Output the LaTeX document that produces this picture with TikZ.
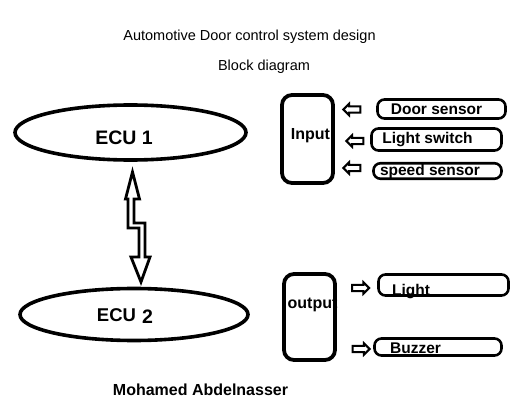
\documentclass[tikz,border=0pt]{standalone}
\usepackage{fontspec}
\setmainfont{Liberation Sans}
\usetikzlibrary{shapes.geometric,shapes.arrows}
\begin{document}
\begin{tikzpicture}[x=1pt,y=-1pt,
  ecu/.style={draw, ellipse, line width=3.6pt, inner sep=0pt},
  bigbox/.style={draw, rectangle, rounded corners=10pt, line width=3.8pt, inner sep=0pt},
  smallbox/.style={draw, rectangle, rounded corners=7pt, line width=2.6pt, inner sep=0pt},
  blk/.style={draw, single arrow, line width=2pt, inner sep=2.2pt, minimum width=10pt,
     single arrow head extend=2.6pt, single arrow head indent=0pt, minimum height=17pt},
  txt/.style={anchor=base, inner sep=0pt, font=\fontsize{#1}{#1}\selectfont},
  btxt/.style={anchor=base, inner sep=0pt, font=\fontsize{#1}{#1}\selectfont\bfseries}
]
\useasboundingbox (0,0) rectangle (512,404);
\fill[white] (0,0) rectangle (512,404);

% titles
\node[txt=14.5] (title) at (249.5,40.5) {Automotive Door control system design};
\node[txt=14.5] (sub) at (264,70.5) {Block diagram};

% ECUs
\node[ecu, minimum width=231pt, minimum height=55pt] (ecu1) at (130.5,132.5) {};
\node[btxt=19.5] (ecu1t) at (124,145) {ECU 1};
\node[ecu, minimum width=228pt, minimum height=52pt] (ecu2) at (134,314.5) {};
\node[btxt=18.5] (ecu2t) at (116.5,321.7) {ECU};
\node[btxt=19.5] (ecu2n) at (147.5,323.3) {2};

% double arrow between ECUs
\draw[line width=2.8pt, line join=miter, fill=white]
  (132.5,172) -- (139.5,199) -- (134,199) -- (134,223) -- (145,223) -- (145,257)
  -- (150,257) -- (141,282) -- (131,257) -- (139,257) -- (139,228) -- (128,228)
  -- (128,199) -- (125.5,199) -- cycle;

% input block
\node[bigbox, minimum width=51pt, minimum height=88pt] (inp) at (307.5,139) {};
\node[btxt=16] (inpt) at (310.5,139.3) {Input};

\node[smallbox, minimum width=128pt, minimum height=19pt] (door) at (441.5,109) {};
\node[btxt=15.5] (doort) at (436.5,114.3) {Door sensor};
\node[smallbox, minimum width=130pt, minimum height=22pt] (lsw) at (436.5,139.5) {};
\node[btxt=15.5] (lswt) at (427.5,143.8) {Light switch};
\node[smallbox, minimum width=128pt, minimum height=15.5pt] (spd) at (437.5,171) {};
\node[btxt=15.5] (spdt) at (430,175.5) {speed sensor};

\node[blk, shape border rotate=180] (a1) at (353.5,109.5) {};
\node[blk, shape border rotate=180] (a2) at (356.5,141) {};
\node[blk, shape border rotate=180] (a3) at (353.5,168) {};

% output block
\node[bigbox, minimum width=51pt, minimum height=86pt] (outp) at (309.5,317) {};
\node[btxt=16] (outpt) at (312.5,308.3) {output};

\node[smallbox, minimum width=130pt, minimum height=21pt] (lig) at (443.5,285) {};
\node[btxt=15.5] (ligt) at (411,295) {Light};
\node[smallbox, minimum width=127pt, minimum height=17pt] (buz) at (438,347) {};
\node[btxt=15.5] (buzt) at (415.5,353.3) {Buzzer};

\node[blk] (a4) at (359,288) {};
\node[blk] (a5) at (359.5,349) {};

% author
\node[btxt=16] (author) at (200.5,395.7) {Mohamed Abdelnasser};
\end{tikzpicture}
\end{document}
